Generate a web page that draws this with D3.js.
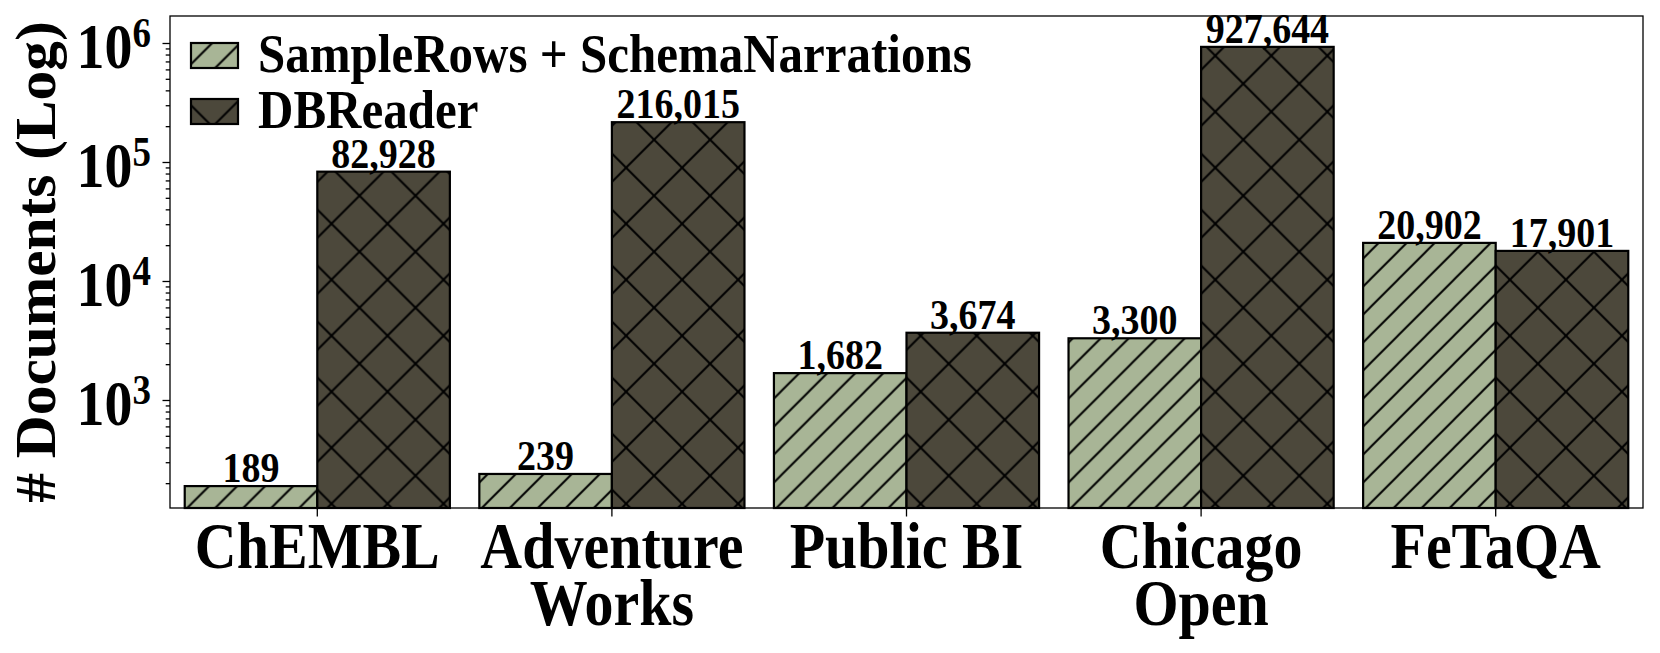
<!DOCTYPE html>
<html>
<head>
<meta charset="utf-8">
<script src="https://cdn.jsdelivr.net/npm/d3@7"></script>
<style>
  body { margin: 0; background: #fff; }
  text { font-family: "Liberation Serif", "Times New Roman", serif; font-weight: bold; fill: #000; }
</style>
</head>
<body>
<div class="chartHolder"></div>
<script>
// data
let categories = ["ChEMBL", "Adventure\nWorks", "Public BI", "Chicago\nOpen", "FeTaQA"];
let seriesNames = ["SampleRows + SchemaNarrations", "DBReader"];
let sampleRows = [189, 239, 1682, 3300, 20902];
let dbReader = [82928, 216015, 3674, 927644, 17901];
let yTicks = [1e3, 1e4, 1e5, 1e6];
let yTickExp = ["3", "4", "5", "6"];

let width = 1660,
  height = 653,
  plotLeft = 170,
  plotRight = 1643,
  plotTop = 16,
  plotBottom = 508;

// the reference glyphs are a bit taller than Liberation Serif
let SY = 1.12;
let at = (x, y) => `translate(${x},${y}) scale(1,${SY})`;

let colors = ["#a8b596", "#4c483b"];

let svg = d3
  .select(".chartHolder")
  .append("svg")
  .attr("width", width)
  .attr("height", height)
  .style("background", "#fff");

// hatch patterns (same origin so they line up like matplotlib)
let defs = svg.append("defs");
let px = 49.5, py = 55.7;

let slash = defs.append("pattern")
  .attr("id", "hatchSlash")
  .attr("patternUnits", "userSpaceOnUse")
  .attr("x", px).attr("y", py)
  .attr("width", 28).attr("height", 28);
slash.append("rect").attr("width", 28).attr("height", 28).attr("fill", colors[0]);
slash.append("path")
  .attr("d", "M-2,30L30,-2M-2,2L2,-2M26,30L30,26")
  .attr("stroke", "#000").attr("stroke-width", 2);

let cross = defs.append("pattern")
  .attr("id", "hatchCross")
  .attr("patternUnits", "userSpaceOnUse")
  .attr("x", px).attr("y", py)
  .attr("width", 56).attr("height", 56);
cross.append("rect").attr("width", 56).attr("height", 56).attr("fill", colors[1]);
cross.append("path")
  .attr("d", "M-2,-2L58,58M58,-2L-2,58")
  .attr("stroke", "#000").attr("stroke-width", 2);

let fills = ["url(#hatchSlash)", "url(#hatchCross)"];

// scales
let xScale = d3.scaleBand().domain(categories).range([plotLeft, plotRight]);
let bw = xScale.bandwidth();
let xSub = d3.scaleBand().domain([0, 1]).range([0.05 * bw, 0.95 * bw]);

let yScale = d3.scaleLog().domain([123.7, 1.686e6]).range([plotBottom, plotTop]);

// y axis (ticks only, labels drawn separately for superscripts)
let yAxis = d3.axisLeft(yScale)
  .tickValues(yScale.ticks().filter((d) => d >= 200))
  .tickSize(4.3)
  .tickFormat("");
let yAxisGroup = svg.append("g")
  .attr("transform", `translate(${plotLeft},0)`)
  .call(yAxis);
yAxisGroup.selectAll(".tick line")
  .attr("stroke", "#000")
  .attr("stroke-width", 1.3)
  .attr("x2", (d) => (yTicks.includes(d) ? -7.5 : -4.3));
yAxisGroup.select(".domain").remove();

let yLab = svg.append("g").selectAll("text")
  .data(yTicks)
  .enter()
  .append("text")
  .attr("transform", (d) => at(151, yScale(d) + 25))
  .attr("text-anchor", "end")
  .style("font-size", "56px");
yLab.append("tspan").text("10");
yLab.append("tspan")
  .attr("dy", -19)
  .style("font-size", "37px")
  .text((d, i) => yTickExp[i]);

// bars
let data = categories.map((c, i) => ({ cat: c, vals: [sampleRows[i], dbReader[i]] }));

let groups = svg.append("g").selectAll("g")
  .data(data)
  .enter()
  .append("g")
  .attr("transform", (d) => `translate(${xScale(d.cat)},0)`);

groups.selectAll("rect")
  .data((d) => d.vals.map((v, s) => ({ v: v, s: s })))
  .enter()
  .append("rect")
  .attr("x", (d) => xSub(d.s))
  .attr("width", xSub.bandwidth())
  .attr("y", (d) => yScale(d.v))
  .attr("height", (d) => plotBottom - yScale(d.v))
  .attr("fill", (d) => fills[d.s])
  .attr("stroke", "#000")
  .attr("stroke-width", 2.2);

// value labels
let fmt = d3.format(",");
groups.selectAll("text.val")
  .data((d) => d.vals.map((v, s) => ({ v: v, s: s })))
  .enter()
  .append("text")
  .attr("class", "val")
  .attr("transform", (d) => at(xSub(d.s) + xSub.bandwidth() / 2, yScale(d.v) - 4))
  .attr("text-anchor", "middle")
  .style("font-size", "38px")
  .text((d) => fmt(d.v));

// x axis
let xAxis = d3.axisBottom(xScale).tickSize(8.5).tickFormat("");
let xAxisGroup = svg.append("g")
  .attr("transform", `translate(0,${plotBottom})`)
  .call(xAxis);
xAxisGroup.selectAll(".tick line").attr("stroke", "#000").attr("stroke-width", 1.3);
xAxisGroup.select(".domain").remove();

let xLab = svg.append("g").selectAll("text")
  .data(categories)
  .enter()
  .append("text")
  .attr("transform", (d) => at(xScale(d) + bw / 2, 567.5))
  .attr("text-anchor", "middle")
  .style("font-size", "58px");
xLab.selectAll("tspan")
  .data((d) => d.split("\n"))
  .enter()
  .append("tspan")
  .attr("x", 0)
  .attr("dy", (d, i) => (i === 0 ? 0 : 57.5 / SY))
  .text((d) => d);

// frame
svg.append("rect")
  .attr("x", plotLeft).attr("y", plotTop)
  .attr("width", plotRight - plotLeft).attr("height", plotBottom - plotTop)
  .attr("fill", "none")
  .attr("stroke", "#000")
  .attr("stroke-width", 1.3);

// y title
svg.append("text")
  .attr("transform", `translate(55,${(plotTop + plotBottom) / 2}) rotate(-90) scale(1.06,1)`)
  .attr("text-anchor", "middle")
  .style("font-size", "56px")
  .text("# Documents (Log)");

// legend
let legend = svg.append("g").selectAll("g")
  .data(seriesNames)
  .enter()
  .append("g")
  .attr("transform", (d, i) => `translate(191,${43 + i * 56})`);
legend.append("rect")
  .attr("width", 47).attr("height", 25)
  .attr("fill", (d, i) => fills[i])
  .attr("stroke", "#000")
  .attr("stroke-width", 2.2);
legend.append("text")
  .attr("transform", at(67, 29))
  .style("font-size", "49px")
  .text((d) => d);
</script>
</body>
</html>
